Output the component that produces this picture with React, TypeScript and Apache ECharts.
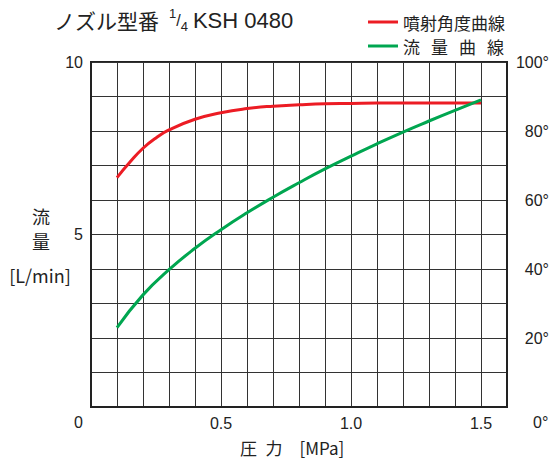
import React, { useEffect, useRef } from "react";
import * as echarts from "echarts";

const anglePressure = [0.1, 0.15, 0.2, 0.25, 0.3, 0.4, 0.5, 0.6, 0.7, 0.8, 0.9, 1.0, 1.1, 1.2, 1.3, 1.4, 1.5];
const sprayAngle = [66.5, 71, 75, 78, 80.3, 83.4, 85.3, 86.5, 87.2, 87.6, 87.9, 88, 88.1, 88.1, 88.1, 88.1, 88.1];
const flowPressure = [0.1, 0.2, 0.3, 0.4, 0.5, 0.6, 0.7, 0.8, 0.9, 1.0, 1.1, 1.2, 1.3, 1.4, 1.5];
const flowRate = [2.3, 3.25, 3.98, 4.6, 5.14, 5.63, 6.08, 6.5, 6.9, 7.27, 7.63, 7.97, 8.29, 8.6, 8.9];
const xTickLabels = [0.5, 1.0, 1.5];
const leftTickLabels = [5, 10];
const rightTickLabels = [20, 40, 60, 80, 100];

const CJK = '"Noto Sans CJK JP", sans-serif';
const NUM = '"Liberation Sans", Arial, sans-serif';

export default function App() {
  const ref = useRef<HTMLDivElement>(null);
  useEffect(() => {
    if (!ref.current) return;
    const chart = echarts.init(ref.current, null, { renderer: "svg" });
    chart.setOption({
      animation: false,
      backgroundColor: "#ffffff",
      title: {
        left: 54,
        top: 7,
        padding: 0,
        text: "{a|ノズル型番}  {s|1}{l|/}{f|4} {b|KSH 0480}",
        textStyle: {
          fontWeight: "normal",
          rich: {
            a: { fontFamily: CJK, fontSize: 21, fontWeight: "normal", color: "#222", lineHeight: 26 },
            s: { fontFamily: NUM, fontSize: 13, fontWeight: "normal", color: "#222", verticalAlign: "top", lineHeight: 21 },
            l: { fontFamily: NUM, fontSize: 16, fontWeight: "normal", color: "#222", lineHeight: 26 },
            f: { fontFamily: NUM, fontSize: 13, fontWeight: "normal", color: "#222", verticalAlign: "bottom", lineHeight: 21 },
            b: { fontFamily: NUM, fontSize: 22, fontWeight: "normal", color: "#222", lineHeight: 26 },
          },
        },
      },
      legend: {
        orient: "vertical",
        left: 368,
        top: 12,
        padding: 0,
        itemWidth: 30,
        itemHeight: 3,
        itemGap: 4,
        icon: "rect",
        data: ["噴射角度曲線", "流量曲線"],
        formatter: (name: string) =>
          name === "流量曲線" ? "{c|流}{g| }{c|量}{g| }{c|曲}{g| }{c|線}" : "{c|" + name + "}",
        textStyle: {
          fontFamily: CJK,
          fontSize: 17,
          color: "#222",
          lineHeight: 20,
          rich: {
            c: { fontFamily: CJK, fontSize: 17, color: "#222", lineHeight: 20 },
            g: { width: 11, fontSize: 17, lineHeight: 20 },
          },
        },
      },
      grid: {
        left: 91,
        right: 43,
        top: 62,
        bottom: 55,
        show: true,
        borderColor: "#222",
        borderWidth: 2,
        backgroundColor: "transparent",
      },
      xAxis: {
        type: "value",
        min: 0,
        max: 1.6,
        interval: 0.1,
        axisLine: { show: true, lineStyle: { color: "#222", width: 2 } },
        axisTick: { show: false },
        splitLine: { show: true, lineStyle: { color: "#333", width: 1 } },
        axisLabel: {
          margin: 8,
          fontFamily: NUM,
          fontSize: 16,
          color: "#222",
          showMinLabel: true,
          showMaxLabel: true,
          formatter: (v: number) => {
            const hit = xTickLabels.find((t) => Math.abs(t - v) < 1e-6);
            return hit !== undefined ? hit.toFixed(1) : "";
          },
        },
      },
      yAxis: [
        {
          type: "value",
          min: 0,
          max: 10,
          interval: 1,
          position: "left",
          axisLine: { show: true, lineStyle: { color: "#222", width: 2 } },
          axisTick: { show: false },
          splitLine: { show: true, lineStyle: { color: "#333", width: 1 } },
          axisLabel: {
            margin: 8,
            fontFamily: NUM,
            fontSize: 16,
            color: "#222",
            formatter: (v: number) => (leftTickLabels.indexOf(Math.round(v)) >= 0 && Math.abs(v - Math.round(v)) < 1e-6 ? String(Math.round(v)) : ""),
          },
        },
        {
          type: "value",
          min: 0,
          max: 100,
          interval: 10,
          position: "right",
          axisLine: { show: true, lineStyle: { color: "#222", width: 2 } },
          axisTick: { show: false },
          splitLine: { show: false },
          axisLabel: {
            margin: 42,
            align: "right",
            fontFamily: NUM,
            fontSize: 16,
            color: "#222",
            formatter: (v: number) => (rightTickLabels.indexOf(Math.round(v)) >= 0 ? Math.round(v) + "°" : ""),
          },
        },
      ],
      graphic: [
        {
          type: "text",
          left: 74,
          top: 414,
          style: { text: "0", fontFamily: NUM, fontSize: 16, fill: "#222" },
        },
        {
          type: "text",
          left: 533,
          top: 414,
          style: { text: "0°", fontFamily: NUM, fontSize: 16, fill: "#222" },
        },
        {
          type: "text",
          x: 41,
          y: 216,
          style: { text: "流", fontFamily: CJK, fontSize: 18, align: "center", verticalAlign: "middle", fill: "#222" },
        },
        {
          type: "text",
          x: 41,
          y: 241,
          style: { text: "量", fontFamily: CJK, fontSize: 18, align: "center", verticalAlign: "middle", fill: "#222" },
        },
        {
          type: "text",
          x: 40,
          y: 275,
          style: { text: "[L/min]", fontFamily: CJK, fontSize: 18, align: "center", verticalAlign: "middle", fill: "#222" },
        },
        {
          type: "text",
          left: 240,
          top: 439,
          style: {
            text: "圧\u2002力\u2002\u2002[MPa]",
            fontFamily: CJK,
            fontSize: 17,
            fill: "#222",
          },
        },
      ],
      series: [
        {
          name: "噴射角度曲線",
          type: "line",
          yAxisIndex: 1,
          data: anglePressure.map((p, i) => [p, sprayAngle[i]]),
          smooth: true,
          showSymbol: false,
          symbol: "none",
          lineStyle: { color: "#ec1c24", width: 3 },
          itemStyle: { color: "#ec1c24" },
          z: 3,
        },
        {
          name: "流量曲線",
          type: "line",
          yAxisIndex: 0,
          data: flowPressure.map((p, i) => [p, flowRate[i]]),
          smooth: true,
          showSymbol: false,
          symbol: "none",
          lineStyle: { color: "#00a650", width: 3 },
          itemStyle: { color: "#00a650" },
          z: 4,
        },
      ],
    });
    return () => chart.dispose();
  }, []);
  return (
    <div
      ref={ref}
      style={{ position: "fixed", left: 0, top: 0, width: 552, height: 462, background: "#fff" }}
    />
  );
}
